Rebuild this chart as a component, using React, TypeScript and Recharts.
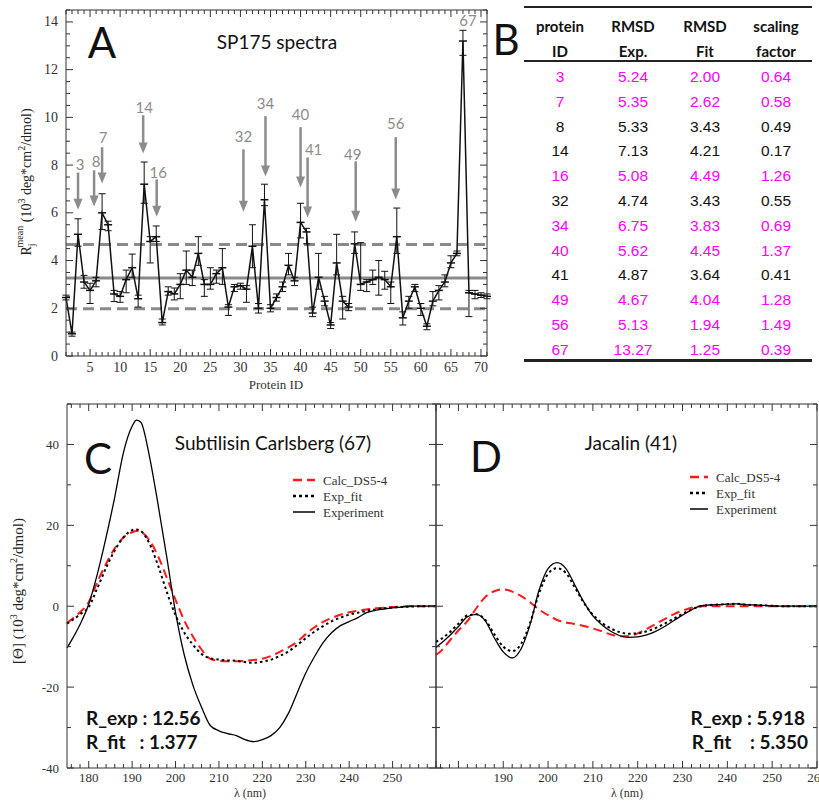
import {
  ComposedChart,
  LineChart,
  Line,
  XAxis,
  YAxis,
  ReferenceLine,
  ReferenceDot,
  ErrorBar,
} from "recharts";

const SERIF = "'Liberation Serif', 'DejaVu Serif', serif";
const CAL = "Lato, 'Open Sans', sans-serif";
const ARIAL = "'Liberation Sans', Arial, sans-serif";
const AXIS = "#333";
const ARROW = "#8c8c8c";
const MAGENTA = "#ff00ff";

// ---- panel A: R_j mean per protein ----
const proteinIds = [
  1, 2, 3, 4, 5, 6, 7, 8, 9, 10, 11, 12, 13, 14, 15, 16, 17, 18, 19, 20, 21, 22, 23, 24,
  25, 26, 27, 28, 29, 30, 31, 32, 33, 34, 35, 36, 37, 38, 39, 40, 41, 42, 43, 44, 45, 46,
  47, 48, 49, 50, 51, 52, 53, 54, 55, 56, 57, 58, 59, 60, 61, 62, 63, 64, 65, 66, 67, 68,
  69, 70, 71,
];
const rjMean = [
  2.45, 0.93, 5.1, 3.1, 2.75, 3.15, 6.0, 5.5, 2.6, 2.5, 3.2, 3.7, 2.4, 7.2, 4.8, 5.0, 1.4,
  2.7, 2.6, 3.0, 3.6, 3.3, 4.3, 3.0, 3.0, 3.45, 3.7, 2.05, 2.9, 2.95, 2.8, 4.6, 2.0, 6.55,
  2.0, 2.45, 2.9, 3.8, 3.15, 5.6, 5.2, 1.8, 3.3, 2.3, 1.3, 3.9, 2.3, 2.05, 4.7, 3.0, 3.1,
  3.2, 3.3, 3.2, 2.9, 5.0, 1.6, 2.3, 2.9, 2.0, 1.25, 2.3, 2.75, 3.1, 3.9, 4.3, 13.2, 2.65,
  2.6, 2.55, 2.5,
];
const rjLow = [
  2.35, 0.83, 4.6, 2.84, 2.2, 2.9, 5.3, 5.25, 2.28, 2.25, 2.65, 3.3, 2.05, 6.4, 3.9, 4.8,
  1.3, 2.55, 2.35, 2.4, 3.0, 2.95, 3.8, 2.5, 2.8, 3.05, 3.0, 1.7, 2.7, 2.8, 2.25, 3.7, 1.8,
  6.3, 1.85, 2.3, 2.7, 3.4, 2.95, 4.95, 4.7, 1.65, 2.8, 2.1, 1.15, 3.4, 1.55, 1.9, 4.3,
  2.75, 2.7, 3.0, 2.55, 2.8, 2.2, 4.3, 1.3, 2.0, 2.7, 1.7, 1.1, 2.1, 2.35, 2.9, 3.7, 4.2,
  12.6, 1.65, 2.4, 2.45, 2.4,
];
const rjHigh = [
  2.55, 1.0, 5.75, 3.38, 3.05, 3.3, 6.8, 5.65, 2.75, 2.7, 3.6, 4.27, 2.55, 8.13, 5.0, 5.45,
  1.55, 2.9, 2.85, 3.45, 4.4, 3.6, 5.0, 3.2, 3.7, 3.6, 4.5, 2.15, 3.0, 3.05, 2.95, 5.5, 2.2,
  7.2, 2.15, 2.6, 3.1, 4.3, 3.3, 6.4, 5.35, 2.05, 4.3, 2.5, 1.4, 5.1, 2.5, 2.2, 5.2, 4.75,
  3.2, 3.6, 4.0, 3.55, 3.1, 6.2, 1.85, 2.5, 3.0, 2.2, 1.35, 2.7, 2.95, 3.4, 4.2, 4.4,
  13.65, 2.75, 2.75, 2.65, 2.6,
];
const rjMeanLine = 3.27;
const rjUpperLine = 4.67;
const rjLowerLine = 1.98;

// highlighted proteins (arrows), in data units
const arrowIds = ["3", "8", "7", "14", "16", "32", "34", "40", "41", "49", "56"];
const arrowX = [3.0, 5.67, 7.0, 13.83, 16.08, 30.5, 34.17, 40.0, 41.17, 49.17, 55.83];
const arrowTop = [7.69, 7.78, 8.75, 10.09, 7.4, 8.66, 10.05, 9.59, 8.32, 8.16, 9.17];
const arrowTip = [6.13, 6.26, 7.23, 8.49, 5.84, 6.05, 7.52, 7.06, 5.8, 5.63, 6.56];
const arrowLabelX = [3.33, 6.0, 7.17, 14.0, 16.33, 30.5, 34.17, 40.0, 42.17, 48.67, 55.83];
const arrowLabelY = [8.03, 8.16, 9.17, 10.43, 7.73, 9.21, 10.6, 10.13, 8.66, 8.45, 9.76];
const peakLabel = { text: "67", x: 67.83, y: 14.09 };

// ---- panel B: table ----
const tableIds = ["3", "7", "8", "14", "16", "32", "34", "40", "41", "49", "56", "67"];
const tableExp = ["5.24", "5.35", "5.33", "7.13", "5.08", "4.74", "6.75", "5.62", "4.87", "4.67", "5.13", "13.27"];
const tableFit = ["2.00", "2.62", "3.43", "4.21", "4.49", "3.43", "3.83", "4.45", "3.64", "4.04", "1.94", "1.25"];
const tableScale = ["0.64", "0.58", "0.49", "0.17", "1.26", "0.55", "0.69", "1.37", "0.41", "1.28", "1.49", "0.39"];
const tableHighlight = [true, true, false, false, true, false, true, true, false, true, true, true];

// ---- panels C & D: CD spectra ----
const wavelengths = [
  175, 176, 178, 180, 182, 184, 186, 188, 190, 191, 192, 194, 196, 198, 200, 202, 204, 206,
  208, 210, 212, 214, 216, 218, 220, 222, 224, 226, 228, 230, 232, 234, 236, 238, 240, 242,
  244, 246, 248, 250, 252, 254, 256, 258, 260,
];
const subtilisinExp = [
  -10.3, -8.5, -4.5, 0.5, 8, 17, 27, 38, 44.5, 46, 45.5, 37, 25, 12, -1.5, -12, -19.5, -25,
  -29.5, -30.8, -31.5, -32, -33, -33.5, -33, -32, -30, -26.5, -21.5, -16.5, -12.5, -9, -6.5,
  -4.8, -3.8, -2.8, -1.6, -1.0, -0.7, -0.4, -0.2, 0, 0, 0, 0.1,
];
const subtilisinCalc = [
  -4.2, -3.3, -1.5, 1, 6, 10.5, 14.3, 17, 18.3, 18.6, 18.4, 16.3, 12.3, 7, 1.6, -3.5, -7.5,
  -10.7, -13, -13.5, -13.6, -13.6, -13.5, -13.3, -13, -12.3, -11.3, -10.2, -8.8, -6.9, -5.2,
  -3.9, -2.9, -2.1, -1.5, -1.1, -0.8, -0.5, -0.4, -0.2, -0.1, 0, 0, 0, 0,
];
const subtilisinFit = [
  -4.3, -3.6, -2, -0.2, 4.5, 9.5, 13.8, 17, 18.8, 19, 18.6, 15.5, 10, 3.5, -2.2, -6.5, -9.5,
  -11.8, -12.9, -13.2, -13.4, -13.5, -13.8, -14, -13.7, -13.2, -12.3, -11.2, -9.6, -7.9,
  -6.3, -4.9, -3.7, -2.8, -2.1, -1.6, -1.2, -0.8, -0.5, -0.3, -0.2, -0.1, 0, 0, 0,
];
const jacalinExp = [
  -10.2, -9.3, -7.3, -5.0, -2.6, -2.0, -3.6, -7.8, -11.3, -12.3, -12.8, -10.5, -4.5, 4, 9.3,
  10.8, 9.3, 5.2, 1, -2.4, -4.6, -6.2, -7.3, -7.7, -7.6, -7.1, -6.2, -5.0, -3.6, -2.2, -0.9,
  0.1, 0.3, 0.4, 0.5, 0.6, 0.4, 0.3, 0.2, 0.1, 0, 0, 0, 0, 0,
];
const jacalinFit = [
  -8.8, -8.2, -6.5, -4.3, -2.3, -2.0, -3.4, -6.9, -10, -10.8, -11.1, -9.3, -4.1, 3.2, 8, 9.4,
  8.2, 4.6, 0.8, -2.1, -4.1, -5.5, -6.4, -6.8, -6.7, -6.2, -5.4, -4.3, -3.1, -1.9, -0.8, 0,
  0.3, 0.4, 0.5, 0.6, 0.4, 0.3, 0.2, 0.1, 0, 0, 0, 0, 0,
];
const jacalinCalc = [
  -12, -11.2, -8.6, -6, -3.7, -0.5, 2.3, 3.7, 4.2, 4, 3.6, 2.5, 1, -0.8, -2.2, -3.4, -4,
  -4.4, -4.9, -5.5, -6.2, -7, -7.4, -7.4, -6.7, -5.6, -4.4, -3.2, -2, -1.1, -0.4, 0, 0, 0,
  0, 0, 0, 0, 0, 0, 0, 0, 0, 0, 0,
];
const seriesNames = ["Calc_DS5-4", "Exp_fit", "Experiment"];

// tick labels
const aXLabels = [5, 10, 15, 20, 25, 30, 35, 40, 45, 50, 55, 60, 65, 70];
const aYLabels = [0, 2, 4, 6, 8, 10, 12, 14];
const cXLabels = [180, 190, 200, 210, 220, 230, 240, 250];
const dXLabels = [190, 200, 210, 220, 230, 240, 250, 260];
const cdXMajor = [180, 190, 200, 210, 220, 230, 240, 250, 260];
const cdYLabels = [-40, -20, 0, 20, 40];

function range(start: number, stop: number, step: number) {
  const out: number[] = [];
  for (let v = start; v <= stop + 1e-9; v += step) out.push(Math.round(v * 100) / 100);
  return out;
}
const aXTicks = range(1, 71, 1);
const aYTicks = range(0, 14.5, 0.5);
const cdXTicks = range(176, 260, 2);
const cdYTicks = range(-40, 50, 10);

const aData = proteinIds.map((id, i) => ({
  id,
  v: rjMean[i],
  err: [rjMean[i] - rjLow[i], rjHigh[i] - rjMean[i]],
}));
const cData = wavelengths.map((w, i) => ({
  w,
  calc: subtilisinCalc[i],
  fit: subtilisinFit[i],
  exp: subtilisinExp[i],
}));
const dData = wavelengths.map((w, i) => ({
  w,
  calc: jacalinCalc[i],
  fit: jacalinFit[i],
  exp: jacalinExp[i],
}));

type Side = "bottom" | "top" | "left" | "right";

function makeTick(side: Side, majors: number[], labels: number[], gap = 0, fontSize = 13) {
  return (p: any) => {
    const v = p.payload.value as number;
    const len = majors.includes(v) ? 7 : 4;
    const { x, y } = p;
    let x2 = x;
    let y2 = y;
    if (side === "bottom") y2 = y - len;
    if (side === "top") y2 = y + len;
    if (side === "left") x2 = x + len;
    if (side === "right") x2 = x - len;
    const show = labels.includes(v);
    const textProps = { fontFamily: SERIF, fontSize, fill: "#333" };
    return (
      <g>
        <line x1={x} y1={y} x2={x2} y2={y2} stroke={AXIS} strokeWidth={1} />
        {show && side === "bottom" && (
          <text x={x} y={y + gap} textAnchor="middle" dominantBaseline="central" {...textProps}>
            {v}
          </text>
        )}
        {show && side === "left" && (
          <text x={x - gap} y={y} textAnchor="end" dominantBaseline="central" {...textProps}>
            {v}
          </text>
        )}
      </g>
    );
  };
}

const axisCommon = {
  type: "number" as const,
  interval: 0 as const,
  tickSize: 0,
  tickMargin: 0,
  tickLine: false,
  axisLine: { stroke: AXIS, strokeWidth: 1 },
};

function ArrowHead(p: any) {
  const { cx, cy } = p;
  return <path d={`M${cx - 4.5},${cy - 11} L${cx + 4.5},${cy - 11} L${cx},${cy} Z`} fill={ARROW} />;
}

function textShape(text: string) {
  return (p: any) => (
    <text
      x={p.cx}
      y={p.cy}
      textAnchor="middle"
      dominantBaseline="central"
      fontFamily={CAL}
      fontSize={15}
      fill={ARROW}
    >
      {text}
    </text>
  );
}

function PlusDot(p: any) {
  return (
    <line
      key={`pd${p.index}`}
      x1={p.cx - 4}
      x2={p.cx + 4}
      y1={p.cy}
      y2={p.cy}
      stroke="#111"
      strokeWidth={1.5}
    />
  );
}

function PanelA() {
  return (
    <ComposedChart width={500} height={410} data={aData} margin={{ top: 9, right: 12, bottom: 14, left: 6 }}>
      <XAxis
        {...axisCommon}
        dataKey="id"
        domain={[1, 71]}
        ticks={aXTicks}
        height={40}
        tick={makeTick("bottom", aXLabels, aXLabels, 11, 14)}
      />
      <XAxis
        {...axisCommon}
        xAxisId="t"
        dataKey="id"
        orientation="top"
        domain={[1, 71]}
        ticks={aXTicks}
        height={1}
        tick={makeTick("top", aXLabels, [])}
      />
      <YAxis
        {...axisCommon}
        domain={[0, 14.5]}
        ticks={aYTicks}
        width={60}
        tick={makeTick("left", aYLabels, aYLabels, 8, 14)}
      />
      <YAxis
        {...axisCommon}
        yAxisId="r"
        orientation="right"
        domain={[0, 14.5]}
        ticks={aYTicks}
        width={1}
        tick={makeTick("right", aYLabels, [])}
      />
      {/* invisible series so the frame axes are drawn */}
      <Line
        xAxisId="t"
        yAxisId="r"
        dataKey="v"
        stroke="none"
        dot={false}
        activeDot={false}
        legendType="none"
        isAnimationActive={false}
      />
      <ReferenceLine y={rjMeanLine} stroke="#8a8a8a" strokeWidth={3} />
      <ReferenceLine y={rjUpperLine} stroke="#8a8a8a" strokeWidth={3} strokeDasharray="11 6" />
      <ReferenceLine y={rjLowerLine} stroke="#8a8a8a" strokeWidth={3} strokeDasharray="11 6" />
      <Line
        dataKey="v"
        type="linear"
        stroke="#111"
        strokeWidth={1.5}
        dot={PlusDot}
        isAnimationActive={false}
      >
        <ErrorBar dataKey="err" width={3.5} stroke="#111" strokeWidth={1} direction="y" />
      </Line>
      {arrowIds.map((id, i) => (
        <ReferenceLine
          key={`s${id}`}
          segment={[
            { x: arrowX[i], y: arrowTop[i] },
            { x: arrowX[i], y: arrowTip[i] + 0.3 },
          ]}
          stroke={ARROW}
          strokeWidth={2.5}
        />
      ))}
      {arrowIds.map((id, i) => (
        <ReferenceDot key={`h${id}`} x={arrowX[i]} y={arrowTip[i]} r={0} shape={ArrowHead} />
      ))}
      {arrowIds.map((id, i) => (
        <ReferenceDot key={`l${id}`} x={arrowLabelX[i]} y={arrowLabelY[i]} r={0} shape={textShape(id)} />
      ))}
      <ReferenceDot x={peakLabel.x} y={peakLabel.y} r={0} shape={textShape(peakLabel.text)} />
    </ComposedChart>
  );
}

function SpectrumChart({
  data,
  width,
  margin,
  yAxisWidth,
  xLabels,
  yLabels,
}: {
  data: any[];
  width: number;
  margin: { top: number; right: number; bottom: number; left: number };
  yAxisWidth: number;
  xLabels: number[];
  yLabels: number[];
}) {
  return (
    <LineChart width={width} height={411} data={data} margin={margin}>
      <XAxis
        {...axisCommon}
        dataKey="w"
        domain={[175, 260]}
        ticks={cdXTicks}
        height={30}
        tick={makeTick("bottom", cdXMajor, xLabels, 9, 13)}
      />
      <XAxis
        {...axisCommon}
        xAxisId="t"
        dataKey="w"
        orientation="top"
        domain={[175, 260]}
        ticks={cdXTicks}
        height={1}
        tick={makeTick("top", cdXMajor, [])}
      />
      <YAxis
        {...axisCommon}
        domain={[-40, 50]}
        ticks={cdYTicks}
        width={yAxisWidth}
        tick={makeTick("left", cdYLabels, yLabels, 8, 13)}
      />
      <YAxis
        {...axisCommon}
        yAxisId="r"
        orientation="right"
        domain={[-40, 50]}
        ticks={cdYTicks}
        width={1}
        tick={makeTick("right", cdYLabels, [])}
      />
      <Line
        xAxisId="t"
        yAxisId="r"
        dataKey="exp"
        stroke="none"
        dot={false}
        activeDot={false}
        legendType="none"
        isAnimationActive={false}
      />
      <Line dataKey="calc" type="monotone" stroke="#ff1a1a" strokeWidth={2} strokeDasharray="9 5" dot={false} isAnimationActive={false} />
      <Line dataKey="fit" type="monotone" stroke="#000" strokeWidth={2} strokeDasharray="2.5 3" dot={false} isAnimationActive={false} />
      <Line dataKey="exp" type="monotone" stroke="#000" strokeWidth={1.3} dot={false} isAnimationActive={false} />
    </LineChart>
  );
}

function SeriesKey({ left, top, sample }: { left: number; top: number; sample: number }) {
  const styles = [
    { stroke: "#ff1a1a", dash: "9 5", w: 2.5 },
    { stroke: "#000", dash: "3 3", w: 2.5 },
    { stroke: "#000", dash: undefined, w: 1.5 },
  ];
  return (
    <svg style={{ position: "absolute", left, top }} width={120} height={48}>
      {seriesNames.map((name, i) => (
        <g key={name}>
          <line
            x1={0}
            x2={sample}
            y1={8 + i * 16}
            y2={8 + i * 16}
            stroke={styles[i].stroke}
            strokeWidth={styles[i].w}
            strokeDasharray={styles[i].dash}
          />
          <text x={sample + 8} y={8 + i * 16} dominantBaseline="central" fontFamily={SERIF} fontSize={13} fill="#333">
            {name}
          </text>
        </g>
      ))}
    </svg>
  );
}

function Txt({
  x,
  y,
  children,
  size,
  font = CAL,
  weight = 400,
  anchor = "center",
  color = "#111",
}: {
  x: number;
  y: number;
  children: any;
  size: number;
  font?: string;
  weight?: number;
  anchor?: "center" | "left" | "right";
  color?: string;
}) {
  const tx = anchor === "center" ? "-50%" : anchor === "right" ? "-100%" : "0";
  return (
    <div
      style={{
        position: "absolute",
        left: x,
        top: y,
        transform: `translate(${tx}, -50%)`,
        fontFamily: font,
        fontSize: size,
        fontWeight: weight,
        color,
        whiteSpace: "pre",
        lineHeight: 1,
      }}
    >
      {children}
    </div>
  );
}

function TableB() {
  const cols = [560, 633, 705, 776];
  const head1 = ["protein", "RMSD", "RMSD", "scaling"];
  const head2 = ["ID", "Exp.", "Fit", "factor"];
  const rule = (y: number, h: number) => (
    <div style={{ position: "absolute", left: 524, top: y, width: 288, height: h, background: "#222" }} />
  );
  return (
    <>
      {rule(6, 2)}
      {rule(60, 2)}
      {rule(359, 2.5)}
      {head1.map((t, i) => (
        <Txt key={`h1${i}`} x={cols[i]} y={26} size={15} weight={700}>
          {t}
        </Txt>
      ))}
      {head2.map((t, i) => (
        <Txt key={`h2${i}`} x={cols[i]} y={51} size={15} weight={700}>
          {t}
        </Txt>
      ))}
      {tableIds.map((id, r) => {
        const color = tableHighlight[r] ? MAGENTA : "#111";
        const y = 77 + r * 24.8;
        const cells = [id, tableExp[r], tableFit[r], tableScale[r]];
        return cells.map((c, k) => (
          <Txt key={`c${r}-${k}`} x={cols[k]} y={y} size={15.5} font={ARIAL} color={color}>
            {c}
          </Txt>
        ));
      })}
    </>
  );
}

export default function App() {
  return (
    <div
      style={{
        position: "absolute",
        left: 0,
        top: 0,
        width: 819,
        height: 801,
        background: "#fff",
        overflow: "hidden",
      }}
    >
      <div style={{ position: "absolute", left: 0, top: 0 }}>
        <PanelA />
      </div>
      <div style={{ position: "absolute", left: 0, top: 390 }}>
        <SpectrumChart
          data={cData}
          width={440}
          margin={{ top: 13, right: 3, bottom: 3, left: 7 }}
          yAxisWidth={60}
          xLabels={cXLabels}
          yLabels={cdYLabels}
        />
      </div>
      <div style={{ position: "absolute", left: 400, top: 390 }}>
        <SpectrumChart
          data={dData}
          width={419}
          margin={{ top: 13, right: 1, bottom: 3, left: 6 }}
          yAxisWidth={30}
          xLabels={dXLabels}
          yLabels={[]}
        />
      </div>

      {/* axis titles */}
      <svg style={{ position: "absolute", left: 0, top: 0 }} width={60} height={801}>
        <text transform="translate(31,182) rotate(-90)" textAnchor="middle" fontFamily={SERIF} fontSize={14} fill="#222">
          R<tspan fontSize={10} dy={4}>j</tspan>
          <tspan fontSize={10} dx={-4} dy={-12}>mean</tspan>
          <tspan dy={8}> (10</tspan>
          <tspan fontSize={10} dy={-6}>3</tspan>
          <tspan dy={6}> deg*cm</tspan>
          <tspan fontSize={10} dy={-6}>2</tspan>
          <tspan dy={6}>/dmol)</tspan>
        </text>
        <text transform="translate(23,591) rotate(-90)" textAnchor="middle" fontFamily={SERIF} fontSize={15} fill="#222">
          [Θ] (10<tspan fontSize={10} dy={-6}>3</tspan>
          <tspan dy={6}> deg*cm</tspan>
          <tspan fontSize={10} dy={-6}>2</tspan>
          <tspan dy={6}>/dmol)</tspan>
        </text>
      </svg>
      <Txt x={276} y={384} size={13} font={SERIF} color="#333">
        Protein ID
      </Txt>
      <Txt x={250} y={793} size={12} font={SERIF} color="#333">
        λ (nm)
      </Txt>
      <Txt x={627} y={793} size={12} font={SERIF} color="#333">
        λ (nm)
      </Txt>

      {/* panel letters and titles */}
      <Txt x={102} y={42} size={42}>A</Txt>
      <Txt x={277} y={41} size={19}>SP175 spectra</Txt>
      <Txt x={506} y={39} size={42}>B</Txt>
      <Txt x={98} y={458} size={42}>C</Txt>
      <Txt x={273} y={442} size={19}>Subtilisin Carlsberg (67)</Txt>
      <Txt x={486} y={456} size={42}>D</Txt>
      <Txt x={631} y={442} size={19}>Jacalin (41)</Txt>

      <SeriesKey left={293} top={472} sample={22} />
      <SeriesKey left={690} top={469} sample={18} />

      <Txt x={86} y={717} size={19} weight={700} anchor="left">R_exp : 12.56</Txt>
      <Txt x={86} y={741} size={19} weight={700} anchor="left">{"R_fit   : 1.377"}</Txt>
      <Txt x={805} y={717} size={19} weight={700} anchor="right">R_exp : 5.918</Txt>
      <Txt x={808} y={741} size={19} weight={700} anchor="right">{"R_fit    : 5.350"}</Txt>

      <TableB />
    </div>
  );
}
